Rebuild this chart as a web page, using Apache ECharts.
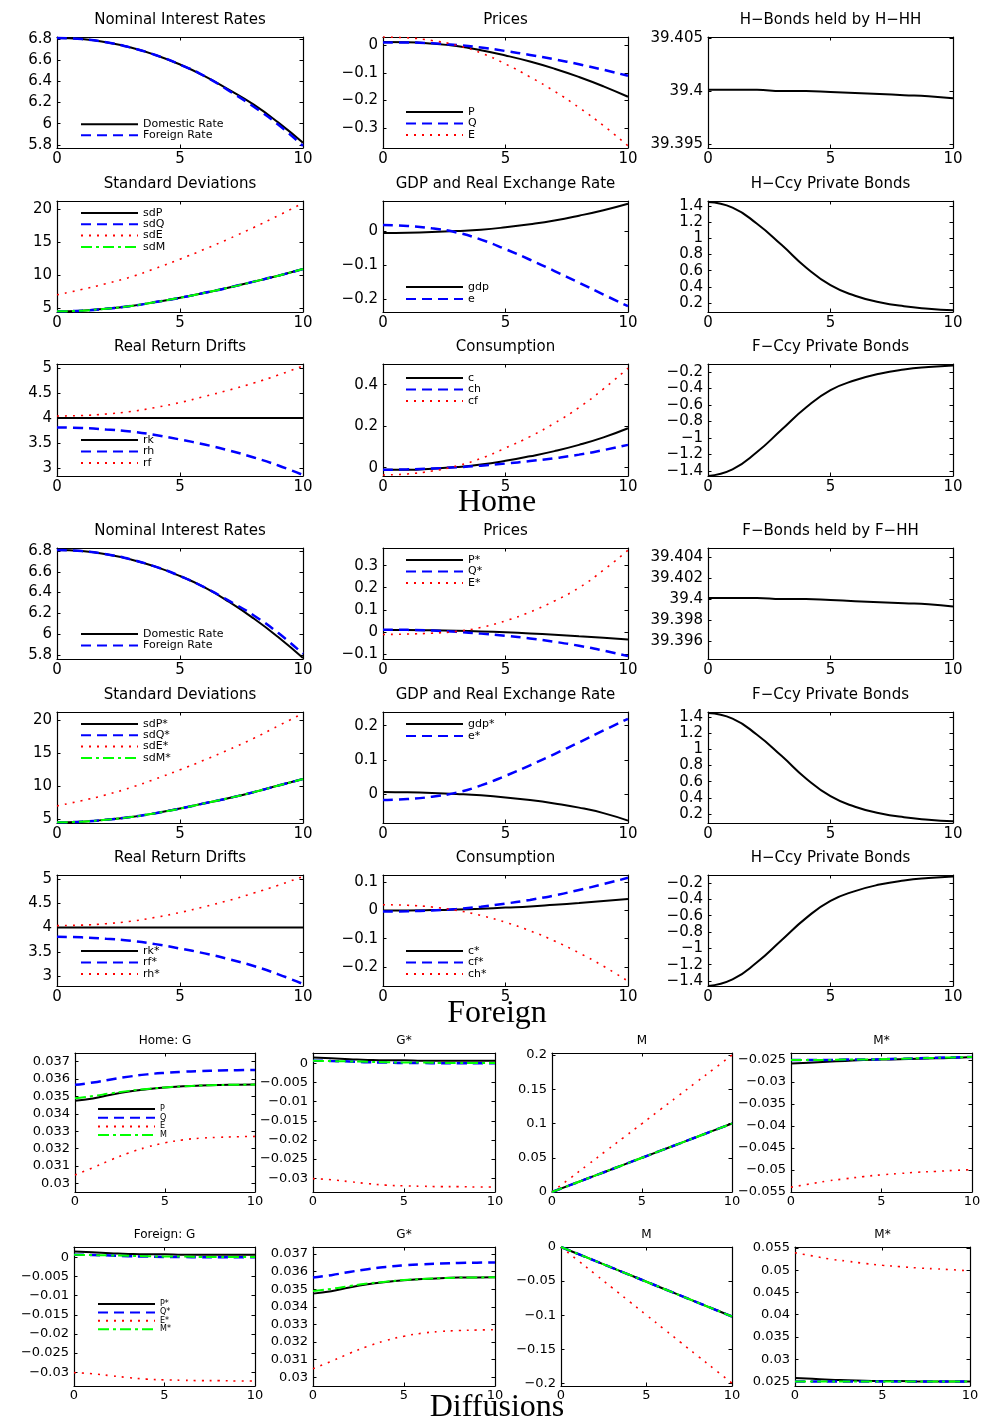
<!DOCTYPE html>
<html>
<head>
<meta charset="utf-8">
<title>Home / Foreign / Diffusions</title>
<script src="https://cdn.jsdelivr.net/npm/echarts@6/dist/echarts.min.js"></script>
<style>
  html, body { margin: 0; padding: 0; background: #fff; }
  #chart { width: 988px; height: 1426px; }
</style>
</head>
<body>
<div id="chart"></div>
<script>
// horizon
const t = [0, 1, 2, 3, 4, 5, 6, 7, 8, 9, 10];
const xTicks = [0, 5, 10];

// ---------- Home ----------
const hRateDom = [6.81, 6.80, 6.77, 6.72, 6.65, 6.56, 6.45, 6.32, 6.18, 6.01, 5.82];
const hRateFor = [6.81, 6.80, 6.77, 6.72, 6.65, 6.56, 6.45, 6.31, 6.16, 5.99, 5.79];
const hP = [0.012, 0.011, 0.006, -0.003, -0.018, -0.037, -0.059, -0.085, -0.115, -0.149, -0.187];
const hQ = [0.010, 0.010, 0.007, 0.001, -0.008, -0.021, -0.035, -0.051, -0.069, -0.089, -0.111];
const hE = [0.030, 0.027, 0.017, 0.000, -0.028, -0.068, -0.115, -0.167, -0.226, -0.292, -0.365];
const hBondHH = [39.4001, 39.4001, 39.4001, 39.4000, 39.4000, 39.3999, 39.3998, 39.3997, 39.3996, 39.3995, 39.3993];
const hSdP = [4.5, 4.6, 4.9, 5.3, 5.9, 6.55, 7.3, 8.1, 9.0, 9.9, 10.9];
const hSdQ = [4.5, 4.6, 4.9, 5.3, 5.9, 6.55, 7.3, 8.1, 9.0, 9.9, 10.9];
const hSdE = [7.0, 7.8, 8.7, 9.7, 11.0, 12.4, 13.9, 15.5, 17.2, 19.0, 20.9];
const hSdM = [4.5, 4.6, 4.9, 5.3, 5.9, 6.55, 7.3, 8.1, 9.0, 9.9, 10.9];
const hGdp = [-0.006, -0.005, -0.003, 0.000, 0.004, 0.011, 0.020, 0.031, 0.045, 0.061, 0.080];
const hRer = [0.018, 0.015, 0.008, -0.004, -0.025, -0.053, -0.084, -0.117, -0.151, -0.186, -0.220];
const hHccy = [1.45, 1.38, 1.18, 0.92, 0.64, 0.42, 0.29, 0.21, 0.16, 0.13, 0.11];
const hRk = [4, 4, 4, 4, 4, 4, 4, 4, 4, 4, 4];
const hRh = [3.81, 3.80, 3.77, 3.73, 3.66, 3.57, 3.47, 3.35, 3.21, 3.05, 2.86];
const hRf = [4.04, 4.05, 4.08, 4.13, 4.21, 4.31, 4.43, 4.56, 4.70, 4.86, 5.04];
const hC = [-0.010, -0.010, -0.005, 0.003, 0.015, 0.033, 0.055, 0.080, 0.110, 0.146, 0.190];
const hCh = [-0.010, -0.008, -0.004, 0.002, 0.010, 0.020, 0.032, 0.046, 0.063, 0.085, 0.110];
const hCf = [-0.035, -0.030, -0.016, 0.008, 0.045, 0.095, 0.150, 0.215, 0.290, 0.380, 0.480];
const hFccy = [-1.46, -1.38, -1.17, -0.90, -0.63, -0.42, -0.30, -0.22, -0.17, -0.14, -0.12];

// ---------- Foreign ----------
const fRateDom = [6.81, 6.80, 6.77, 6.72, 6.65, 6.56, 6.45, 6.31, 6.15, 5.97, 5.77];
const fRateFor = [6.81, 6.80, 6.77, 6.72, 6.65, 6.56, 6.45, 6.32, 6.18, 6.01, 5.81];
const fP = [0.008, 0.008, 0.007, 0.005, 0.002, -0.002, -0.007, -0.013, -0.020, -0.027, -0.035];
const fQ = [0.010, 0.009, 0.006, 0.000, -0.008, -0.018, -0.030, -0.045, -0.063, -0.085, -0.110];
const fE = [-0.012, -0.010, -0.006, 0.002, 0.020, 0.050, 0.090, 0.140, 0.200, 0.280, 0.370];
const fBondFF = [39.4001, 39.4001, 39.4001, 39.4000, 39.4000, 39.3999, 39.3998, 39.3997, 39.3996, 39.3995, 39.3993];
const fSdP = [4.5, 4.6, 4.9, 5.3, 5.9, 6.6, 7.4, 8.2, 9.1, 10.1, 11.1];
const fSdQ = [4.5, 4.6, 4.9, 5.3, 5.9, 6.6, 7.4, 8.2, 9.1, 10.1, 11.1];
const fSdE = [7.0, 7.8, 8.7, 9.8, 11.1, 12.5, 14.0, 15.6, 17.3, 19.2, 21.1];
const fSdM = [4.5, 4.6, 4.9, 5.3, 5.9, 6.6, 7.4, 8.2, 9.1, 10.1, 11.1];
const fGdp = [0.006, 0.005, 0.003, 0.000, -0.004, -0.010, -0.018, -0.028, -0.040, -0.056, -0.078];
const fRer = [-0.018, -0.015, -0.008, 0.004, 0.025, 0.053, 0.084, 0.117, 0.151, 0.186, 0.220];
const fFccy = [1.45, 1.38, 1.18, 0.92, 0.64, 0.42, 0.29, 0.21, 0.16, 0.13, 0.11];
const fRk = [4, 4, 4, 4, 4, 4, 4, 4, 4, 4, 4];
const fRf = [3.81, 3.80, 3.77, 3.73, 3.66, 3.57, 3.47, 3.35, 3.21, 3.04, 2.84];
const fRh = [4.04, 4.05, 4.08, 4.13, 4.21, 4.31, 4.43, 4.56, 4.71, 4.87, 5.05];
const fC = [0.000, 0.000, 0.001, 0.003, 0.006, 0.010, 0.014, 0.020, 0.026, 0.033, 0.040];
const fCf = [-0.004, -0.003, 0.000, 0.005, 0.013, 0.024, 0.037, 0.053, 0.072, 0.093, 0.115];
const fCh = [0.020, 0.018, 0.012, 0.000, -0.018, -0.042, -0.072, -0.108, -0.150, -0.197, -0.250];
const fHccy = [-1.46, -1.38, -1.17, -0.90, -0.63, -0.42, -0.30, -0.22, -0.17, -0.14, -0.12];

// ---------- Diffusions ----------
const dHgP = [0.03475, 0.03488, 0.0351, 0.03528, 0.03541, 0.03551, 0.03558, 0.03563, 0.03566, 0.03567, 0.03568];
const dHgQ = [0.03567, 0.0358, 0.03598, 0.03614, 0.03627, 0.03636, 0.03642, 0.03646, 0.03649, 0.03651, 0.03652];
const dHgE = [0.03048, 0.0309, 0.03135, 0.03175, 0.03208, 0.03233, 0.0325, 0.0326, 0.03265, 0.03268, 0.0327];
const dHgM = [0.0349, 0.03502, 0.03518, 0.03532, 0.03543, 0.03552, 0.03558, 0.03563, 0.03566, 0.03567, 0.03568];
const dHgsP = [0.0015, 0.0013, 0.0011, 0.0009, 0.0008, 0.0008, 0.0007, 0.0007, 0.0007, 0.0007, 0.0007];
const dHgsQ = [0.0007, 0.0006, 0.0005, 0.0003, 0.0002, 0.0001, 0.0001, 0.0, 0.0, 0.0, 0.0];
const dHgsE = [-0.0301, -0.0304, -0.0309, -0.0314, -0.0318, -0.032, -0.0321, -0.0322, -0.0322, -0.0323, -0.0323];
const dHgsM = [0.0007, 0.0006, 0.0005, 0.0004, 0.0003, 0.0002, 0.0002, 0.0001, 0.0001, 0.0001, 0.0001];
const dHmP = [0, 0.01, 0.02, 0.03, 0.04, 0.05, 0.06, 0.07, 0.08, 0.09, 0.10];
const dHmQ = [0, 0.01, 0.02, 0.03, 0.04, 0.05, 0.06, 0.07, 0.08, 0.09, 0.10];
const dHmE = [0, 0.02, 0.04, 0.06, 0.08, 0.10, 0.12, 0.14, 0.16, 0.18, 0.20];
const dHmM = [0, 0.01, 0.02, 0.03, 0.04, 0.05, 0.06, 0.07, 0.08, 0.09, 0.10];
const dHmsP = [-0.0258, -0.0256, -0.0254, -0.0252, -0.0250, -0.0249, -0.0248, -0.0247, -0.0246, -0.0245, -0.0243];
const dHmsQ = [-0.0250, -0.0250, -0.0250, -0.0249, -0.0249, -0.0248, -0.0247, -0.0246, -0.0245, -0.0244, -0.0243];
const dHmsE = [-0.0539, -0.0532, -0.0525, -0.0520, -0.0515, -0.0511, -0.0508, -0.0505, -0.0503, -0.0501, -0.0499];
const dHmsM = [-0.0250, -0.0250, -0.0250, -0.0249, -0.0249, -0.0248, -0.0247, -0.0246, -0.0245, -0.0244, -0.0243];

const dFgP = [0.0015, 0.0013, 0.0011, 0.0009, 0.0008, 0.0008, 0.0007, 0.0007, 0.0007, 0.0007, 0.0007];
const dFgQ = [0.0007, 0.0006, 0.0005, 0.0003, 0.0002, 0.0001, 0.0001, 0.0, 0.0, 0.0, 0.0];
const dFgE = [-0.0301, -0.0304, -0.0309, -0.0314, -0.0318, -0.032, -0.0321, -0.0322, -0.0322, -0.0323, -0.0323];
const dFgM = [0.0007, 0.0006, 0.0005, 0.0004, 0.0003, 0.0002, 0.0002, 0.0001, 0.0001, 0.0001, 0.0001];
const dFgsP = [0.03475, 0.03488, 0.0351, 0.03528, 0.03541, 0.03551, 0.03558, 0.03563, 0.03566, 0.03567, 0.03568];
const dFgsQ = [0.03567, 0.0358, 0.03598, 0.03614, 0.03627, 0.03636, 0.03642, 0.03646, 0.03649, 0.03651, 0.03652];
const dFgsE = [0.03048, 0.0309, 0.03135, 0.03175, 0.03208, 0.03233, 0.0325, 0.0326, 0.03265, 0.03268, 0.0327];
const dFgsM = [0.0349, 0.03502, 0.03518, 0.03532, 0.03543, 0.03552, 0.03558, 0.03563, 0.03566, 0.03567, 0.03568];
const dFmP = [0, -0.0102, -0.0204, -0.0306, -0.0408, -0.051, -0.0612, -0.0714, -0.0816, -0.0918, -0.102];
const dFmQ = [0, -0.0102, -0.0204, -0.0306, -0.0408, -0.051, -0.0612, -0.0714, -0.0816, -0.0918, -0.102];
const dFmE = [0, -0.02, -0.04, -0.06, -0.08, -0.10, -0.12, -0.14, -0.16, -0.18, -0.20];
const dFmM = [0, -0.0102, -0.0204, -0.0306, -0.0408, -0.051, -0.0612, -0.0714, -0.0816, -0.0918, -0.102];
const dFmsP = [0.0258, 0.0256, 0.0254, 0.0253, 0.0252, 0.0251, 0.0251, 0.0250, 0.0250, 0.0250, 0.0250];
const dFmsQ = [0.0250, 0.0250, 0.0250, 0.0250, 0.0250, 0.0250, 0.0250, 0.0250, 0.0250, 0.0250, 0.0250];
const dFmsE = [0.0539, 0.0532, 0.0525, 0.0520, 0.0515, 0.0511, 0.0508, 0.0505, 0.0503, 0.0501, 0.0498];
const dFmsM = [0.0250, 0.0250, 0.0250, 0.0250, 0.0250, 0.0250, 0.0250, 0.0250, 0.0250, 0.0250, 0.0250];

// tick labels
const rateTicks = [5.8, 6, 6.2, 6.4, 6.6, 6.8];
const hPriceTicks = [-0.3, -0.2, -0.1, 0];
const fPriceTicks = [-0.1, 0, 0.1, 0.2, 0.3];
const hBondTicks = [39.395, 39.4, 39.405];
const fBondTicks = [39.396, 39.398, 39.4, 39.402, 39.404];
const sdTicks = [5, 10, 15, 20];
const hGdpTicks = [-0.2, -0.1, 0];
const fGdpTicks = [0, 0.1, 0.2];
const posBondTicks = [0.2, 0.4, 0.6, 0.8, 1, 1.2, 1.4];
const negBondTicks = [-1.4, -1.2, -1, -0.8, -0.6, -0.4, -0.2];
const driftTicks = [3, 3.5, 4, 4.5, 5];
const hConsTicks = [0, 0.2, 0.4];
const fConsTicks = [-0.2, -0.1, 0, 0.1];
const gTicks = [0.03, 0.031, 0.032, 0.033, 0.034, 0.035, 0.036, 0.037];
const gNegTicks = [-0.03, -0.025, -0.02, -0.015, -0.01, -0.005, 0];
const mPosTicks = [0, 0.05, 0.1, 0.15, 0.2];
const mNegTicks = [-0.2, -0.15, -0.1, -0.05, 0];
const msNegTicks = [-0.055, -0.05, -0.045, -0.04, -0.035, -0.03, -0.025];
const msPosTicks = [0.025, 0.03, 0.035, 0.04, 0.045, 0.05, 0.055];

const FONT = 'DejaVu Sans';
const BLACK = { color: '#000000', width: 2, type: 'solid' };
const BLUE = { color: '#0000ff', width: 2.5, type: [10, 6] };
const RED = { color: '#ff0000', width: 1.6, type: [2, 6] };
const GREEN = { color: '#00ff00', width: 2, type: [11, 4, 3, 4] };

const C1 = [57, 303], C2 = [383, 628], C3 = [708, 953];
const box = (c, r) => [c[0], r[0], c[1], r[1]];

const panels = [
  // Home
  { title: 'Nominal Interest Rates', box: box(C1, [37, 148]), y: [5.77, 6.82], ticks: rateTicks,
    lines: [['Domestic Rate', hRateDom, BLACK], ['Foreign Rate', hRateFor, BLUE]], legend: [80, 124, 10.5] },
  { title: 'Prices', box: box(C2, [37, 148]), y: [-0.373, 0.03], ticks: hPriceTicks,
    lines: [['P', hP, BLACK], ['Q', hQ, BLUE], ['E', hE, RED]], legend: [405, 112, 11.5] },
  { title: 'H\u2212Bonds held by H\u2212HH', box: box(C3, [37, 148]), y: [39.3946, 39.4051], ticks: hBondTicks,
    lines: [['b', hBondHH, BLACK]] },
  { title: 'Standard Deviations', box: box(C1, [201, 312]), y: [4.4, 21.2], ticks: sdTicks,
    lines: [['sdP', hSdP, BLACK], ['sdQ', hSdQ, BLUE], ['sdE', hSdE, RED], ['sdM', hSdM, GREEN]], legend: [80, 213, 11.3] },
  { title: 'GDP and Real Exchange Rate', box: box(C2, [201, 312]), y: [-0.237, 0.088], ticks: hGdpTicks,
    lines: [['gdp', hGdp, BLACK], ['e', hRer, BLUE]], legend: [405, 287, 12] },
  { title: 'H\u2212Ccy Private Bonds', box: box(C3, [201, 312]), y: [0.089, 1.462], ticks: posBondTicks,
    lines: [['b', hHccy, BLACK]] },
  { title: 'Real Return Drifts', box: box(C1, [364, 476]), y: [2.84, 5.08], ticks: driftTicks,
    lines: [['rk', hRk, BLACK], ['rh', hRh, BLUE], ['rf', hRf, RED]], legend: [80, 440, 11.5] },
  { title: 'Consumption', box: box(C2, [364, 476]), y: [-0.04, 0.5], ticks: hConsTicks,
    lines: [['c', hC, BLACK], ['ch', hCh, BLUE], ['cf', hCf, RED]], legend: [405, 378, 11.5] },
  { title: 'F\u2212Ccy Private Bonds', box: box(C3, [364, 476]), y: [-1.46, -0.103], ticks: negBondTicks,
    lines: [['b', hFccy, BLACK]] },
  // Foreign
  { title: 'Nominal Interest Rates', box: box(C1, [548, 659]), y: [5.76, 6.83], ticks: rateTicks,
    lines: [['Domestic Rate', fRateDom, BLACK], ['Foreign Rate', fRateFor, BLUE]], legend: [80, 634, 11.5] },
  { title: 'Prices', box: box(C2, [548, 659]), y: [-0.123, 0.38], ticks: fPriceTicks,
    lines: [['P*', fP, BLACK], ['Q*', fQ, BLUE], ['E*', fE, RED]], legend: [405, 560, 11.5] },
  { title: 'F\u2212Bonds held by F\u2212HH', box: box(C3, [548, 659]), y: [39.39429, 39.40486], ticks: fBondTicks,
    lines: [['b', fBondFF, BLACK]] },
  { title: 'Standard Deviations', box: box(C1, [712, 823]), y: [4.4, 21.3], ticks: sdTicks,
    lines: [['sdP*', fSdP, BLACK], ['sdQ*', fSdQ, BLUE], ['sdE*', fSdE, RED], ['sdM*', fSdM, GREEN]], legend: [80, 724, 11.3] },
  { title: 'GDP and Real Exchange Rate', box: box(C2, [712, 823]), y: [-0.085, 0.24], ticks: fGdpTicks,
    lines: [['gdp*', fGdp, BLACK], ['e*', fRer, BLUE]], legend: [405, 724, 12] },
  { title: 'F\u2212Ccy Private Bonds', box: box(C3, [712, 823]), y: [0.089, 1.462], ticks: posBondTicks,
    lines: [['b', fFccy, BLACK]] },
  { title: 'Real Return Drifts', box: box(C1, [875, 986]), y: [2.8, 5.08], ticks: driftTicks,
    lines: [['rk*', fRk, BLACK], ['rf*', fRf, BLUE], ['rh*', fRh, RED]], legend: [80, 951, 11.5] },
  { title: 'Consumption', box: box(C2, [875, 986]), y: [-0.267, 0.125], ticks: fConsTicks,
    lines: [['c*', fC, BLACK], ['cf*', fCf, BLUE], ['ch*', fCh, RED]], legend: [405, 951, 11.5] },
  { title: 'H\u2212Ccy Private Bonds', box: box(C3, [875, 986]), y: [-1.46, -0.103], ticks: negBondTicks,
    lines: [['b', fHccy, BLACK]] },
  // Diffusions, row 1
  { title: 'Home: G', small: true, box: [75, 1053, 255, 1192], y: [0.0295, 0.0375], ticks: gTicks,
    lines: [['P', dHgP, BLACK], ['Q', dHgQ, BLUE], ['E', dHgE, RED], ['M', dHgM, GREEN]], legend: [97, 1109, 8.7] },
  { title: 'G*', small: true, box: [313, 1053, 495, 1192], y: [-0.0336, 0.0027], ticks: gNegTicks,
    lines: [['P', dHgsP, BLACK], ['Q', dHgsQ, BLUE], ['E', dHgsE, RED], ['M', dHgsM, GREEN]] },
  { title: 'M', small: true, box: [552, 1053, 732, 1192], y: [0, 0.203], ticks: mPosTicks,
    lines: [['P', dHmP, BLACK], ['Q', dHmQ, BLUE], ['E', dHmE, RED], ['M', dHmM, GREEN]] },
  { title: 'M*', small: true, box: [791, 1053, 972, 1192], y: [-0.055, -0.0234], ticks: msNegTicks,
    lines: [['P', dHmsP, BLACK], ['Q', dHmsQ, BLUE], ['E', dHmsE, RED], ['M', dHmsM, GREEN]] },
  // Diffusions, row 2
  { title: 'Foreign: G', small: true, box: [74, 1247, 255, 1386], y: [-0.0336, 0.0027], ticks: gNegTicks,
    lines: [['P*', dFgP, BLACK], ['Q*', dFgQ, BLUE], ['E*', dFgE, RED], ['M*', dFgM, GREEN]], legend: [97, 1304, 8.4] },
  { title: 'G*', small: true, box: [313, 1247, 495, 1386], y: [0.0295, 0.0374], ticks: gTicks,
    lines: [['P*', dFgsP, BLACK], ['Q*', dFgsQ, BLUE], ['E*', dFgsE, RED], ['M*', dFgsM, GREEN]] },
  { title: 'M', small: true, box: [561, 1247, 732, 1386], y: [-0.204, 0], ticks: mNegTicks,
    lines: [['P*', dFmP, BLACK], ['Q*', dFmQ, BLUE], ['E*', dFmE, RED], ['M*', dFmM, GREEN]] },
  { title: 'M*', small: true, box: [795, 1247, 970, 1386], y: [0.024, 0.0552], ticks: msPosTicks,
    lines: [['P*', dFmsP, BLACK], ['Q*', dFmsQ, BLUE], ['E*', dFmsE, RED], ['M*', dFmsM, GREEN]] }
];

const sections = [['Home', 503], ['Foreign', 1014], ['Diffusions', 1408]];

function fmt(v) {
  return String(+v.toFixed(6)).replace('-', '\u2212');
}

const grid = [], xAxis = [], yAxis = [], series = [], legend = [];
const title = [];

panels.forEach((p, i) => {
  const [x0, y0, x1, y1] = p.box;
  const fs = p.small ? 13 : 15;
  const line = () => ({ show: true, onZero: false, lineStyle: { color: '#000', width: 1.2 } });
  const tick = (vals) => ({ show: true, inside: true, length: 3.5, customValues: vals, lineStyle: { color: '#000', width: 1 } });
  const label = (vals, margin) => ({
    show: true, customValues: vals, margin: margin, color: '#000',
    fontSize: fs, fontFamily: FONT, formatter: fmt
  });

  grid.push({ left: x0, top: y0, width: x1 - x0, height: y1 - y0, containLabel: false, outerBoundsMode: 'none' });

  xAxis.push({ type: 'value', gridIndex: i, position: 'bottom', min: 0, max: 10,
    axisLine: line(), axisTick: tick(xTicks), axisLabel: label(xTicks, p.small ? 3 : 4), splitLine: { show: false } });
  xAxis.push({ type: 'value', gridIndex: i, position: 'top', min: 0, max: 10,
    axisLine: line(), axisTick: tick(xTicks), axisLabel: { show: false }, splitLine: { show: false } });
  yAxis.push({ type: 'value', gridIndex: i, position: 'left', min: p.y[0], max: p.y[1],
    axisLine: line(), axisTick: tick(p.ticks), axisLabel: label(p.ticks, 5), splitLine: { show: false } });
  yAxis.push({ type: 'value', gridIndex: i, position: 'right', min: p.y[0], max: p.y[1],
    axisLine: line(), axisTick: tick(p.ticks), axisLabel: { show: false }, splitLine: { show: false } });

  const names = [];
  p.lines.forEach(([lab, vals, st]) => {
    const name = i + '|' + lab;
    names.push(name);
    series.push({
      type: 'line', name: name, xAxisIndex: 2 * i, yAxisIndex: 2 * i,
      data: t.map((x, k) => [x, vals[k]]),
      symbol: 'none', smooth: 0.5,
      itemStyle: { color: st.color },
      lineStyle: Object.assign({ cap: 'butt' }, st), silent: true
    });
  });

  if (p.legend) {
    const [lx, ly, gap] = p.legend;
    legend.push({
      orient: 'vertical', left: lx, top: ly - gap / 2, padding: 0, itemGap: 0,
      itemWidth: 57, itemHeight: gap - 1, selectedMode: false, data: names,
      itemStyle: { opacity: 0 },
      formatter: (n) => n.split('|')[1],
      textStyle: { fontSize: p.small ? 8 : 11, lineHeight: gap, fontFamily: FONT, color: '#000' }
    });
  }

  const ty = p.small ? y0 - 12 : y0 - 16.5;
  const tfs = p.small ? 12 : 15;
  title.push({
    text: p.title, left: (x0 + x1) / 2, top: ty - tfs / 2, textAlign: 'center', padding: 0,
    textStyle: { fontSize: tfs, fontWeight: 'normal', fontFamily: FONT, color: '#000' }
  });
});

sections.forEach(([txt, cy]) => {
  title.push({
    text: txt, left: 497, top: cy - 16, textAlign: 'center', padding: 0,
    textStyle: { fontSize: 32, fontWeight: 'normal', fontFamily: 'Liberation Serif', color: '#000' }
  });
});

const chart = echarts.init(document.getElementById('chart'));
chart.setOption({
  backgroundColor: '#fff',
  animation: false,
  title: title,
  legend: legend,
  grid: grid,
  xAxis: xAxis,
  yAxis: yAxis,
  series: series
});
window.addEventListener('resize', () => chart.resize());
</script>
</body>
</html>
